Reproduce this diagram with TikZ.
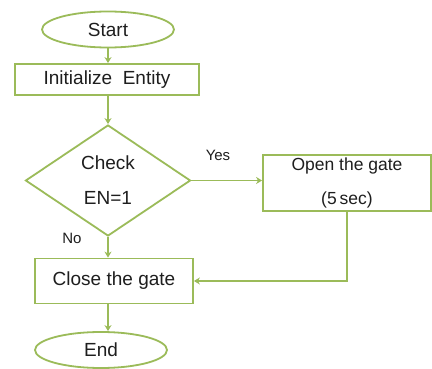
\documentclass[tikz,border=0pt]{standalone}
\usepackage{fontspec}
\setmainfont{Liberation Sans}
\usetikzlibrary{shapes.geometric,arrows.meta}
\definecolor{flowgreen}{HTML}{9BBB59}
\definecolor{flowtext}{HTML}{1E1E1E}
\begin{document}
\begin{tikzpicture}[x=1pt,y=-1pt,
  every node/.style={text=flowtext},
  base/.style={draw=flowgreen, line width=1.8pt, fill=white, inner sep=0pt},
  term/.style={base, ellipse, minimum width=132pt, minimum height=36pt,
    font=\fontsize{19}{22}\selectfont},
  proc/.style={base, rectangle, font=\fontsize{19}{22}\selectfont},
  arr/.style={draw=flowgreen, line width=1.8pt,
    -{Stealth[length=6pt,width=7pt]}},
  lbl/.style={font=\fontsize{15}{18}\selectfont}]
\useasboundingbox (0,0) rectangle (432,369);
\fill[white] (0,0) rectangle (432,369);

% flow nodes
\node[term] (start) at (108,29.5) {Start};
\node[proc, minimum width=184pt, minimum height=31pt] (init) at (107,79.5)
  {Initialize\ \ Entity};
\node[base, diamond, minimum width=165pt, minimum height=111pt,
  align=center, font=\fontsize{19}{35}\selectfont] (check) at (108,180.5)
  {Check\\EN=1};
\node[proc, minimum width=168pt, minimum height=56pt, align=center,
  font=\fontsize{17.5}{34}\selectfont] (open) at (347,183) {Open the gate\\(5\,sec)};
\node[proc, minimum width=158pt, minimum height=45pt] (close) at (114,281)
  {Close the gate};
\node[term] (end) at (101,350) {End};

% branch labels
\node[lbl] (yes) at (218,155) {Yes};
\node[lbl] (no) at (72,238) {No};

% connectors
\draw[arr] (start.south) -- (start.south |- init.north);
\draw[arr] (check.north |- init.south) -- (check.north);
\draw[arr] (check.east) -- (check.east -| open.west);
\draw[arr] (check.south) -- (check.south |- close.north);
\draw[arr] (open.south) |- (close.east);
\draw[arr] (check.south |- close.south) -- (check.south |- end.north);
\end{tikzpicture}
\end{document}
